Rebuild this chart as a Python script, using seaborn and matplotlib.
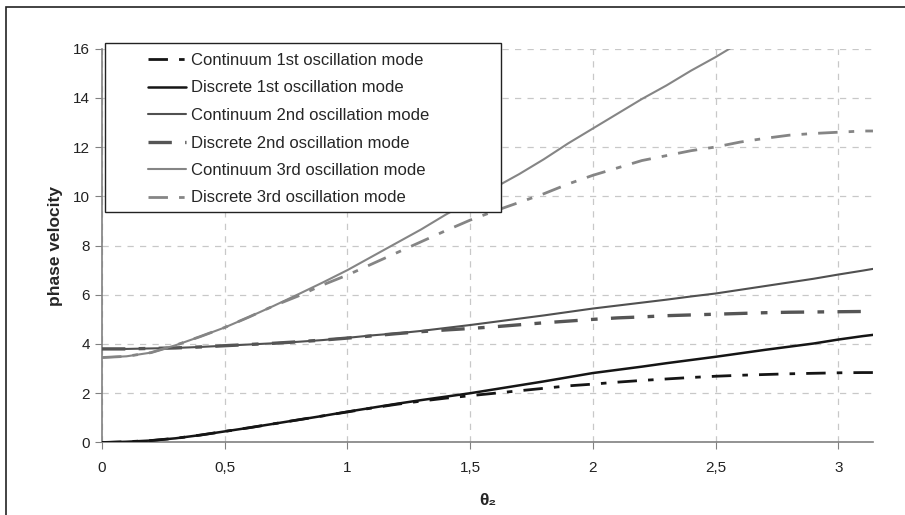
import matplotlib
matplotlib.use("Agg")
import matplotlib.pyplot as plt
from matplotlib.patches import Rectangle
import numpy as np
import seaborn as sns

theta = [0, 0.1, 0.2, 0.3, 0.4, 0.5, 0.6, 0.7, 0.8, 0.9, 1.0, 1.1, 1.2, 1.3, 1.4, 1.5,
         1.6, 1.7, 1.8, 1.9, 2.0, 2.1, 2.2, 2.3, 2.4, 2.5, 2.6, 2.7, 2.8, 2.9, 3.0, 3.1, np.pi]

cont1 = [0, 0.03, 0.08, 0.17, 0.3, 0.45, 0.6, 0.76, 0.92, 1.08, 1.24, 1.4, 1.55, 1.68, 1.8, 1.9,
         2.0, 2.1, 2.2, 2.3, 2.37, 2.45, 2.52, 2.58, 2.64, 2.69, 2.73, 2.76, 2.79, 2.81, 2.83, 2.84, 2.84]
disc1 = [0, 0.03, 0.08, 0.17, 0.3, 0.45, 0.6, 0.76, 0.92, 1.08, 1.25, 1.41, 1.57, 1.72, 1.86, 2.0,
         2.16, 2.32, 2.48, 2.65, 2.82, 2.95, 3.08, 3.22, 3.35, 3.48, 3.62, 3.76, 3.89, 4.02, 4.18, 4.32, 4.37]
cont2 = [3.8, 3.8, 3.82, 3.84, 3.88, 3.93, 3.98, 4.03, 4.09, 4.16, 4.25, 4.35, 4.43, 4.53, 4.65, 4.77,
         4.9, 5.03, 5.16, 5.3, 5.44, 5.56, 5.68, 5.8, 5.93, 6.05, 6.2, 6.35, 6.5, 6.65, 6.82, 6.98, 7.05]
disc2 = [3.8, 3.8, 3.82, 3.84, 3.88, 3.93, 3.98, 4.03, 4.09, 4.16, 4.24, 4.33, 4.42, 4.5, 4.57, 4.63,
         4.7, 4.78, 4.86, 4.93, 5.0, 5.06, 5.1, 5.15, 5.18, 5.21, 5.24, 5.27, 5.29, 5.3, 5.31, 5.32, 5.32]
cont3 = [3.45, 3.5, 3.65, 3.95, 4.3, 4.67, 5.1, 5.55, 6.02, 6.5, 7.0, 7.55, 8.1, 8.65, 9.25, 9.8,
         10.35, 10.9, 11.5, 12.15, 12.75, 13.35, 13.95, 14.5, 15.1, 15.65, 16.25,
         np.nan, np.nan, np.nan, np.nan, np.nan, np.nan]
disc3 = [3.45, 3.5, 3.65, 3.95, 4.3, 4.67, 5.1, 5.55, 5.95, 6.4, 6.8, 7.25, 7.7, 8.15, 8.6, 9.03,
         9.4, 9.75, 10.1, 10.5, 10.85, 11.15, 11.45, 11.65, 11.85, 12.0, 12.2, 12.35, 12.48, 12.55, 12.6, 12.65, 12.65]

labels = ["Continuum 1st oscillation mode", "Discrete 1st oscillation mode",
          "Continuum 2nd oscillation mode", "Discrete 2nd oscillation mode",
          "Continuum 3rd oscillation mode", "Discrete 3rd oscillation mode"]
x_ticks = [0, 0.5, 1, 1.5, 2, 2.5, 3]
x_ticklabels = ["0", "0,5", "1", "1,5", "2", "2,5", "3"]
y_ticks = [0, 2, 4, 6, 8, 10, 12, 14, 16]

sns.set_style("white")
plt.rcParams['font.family'] = ['Liberation Sans', 'DejaVu Sans']

fig = plt.figure(figsize=(9.05, 5.15), dpi=100)
ax = fig.add_axes([0.1127, 0.1408, 0.8519, 0.765])

dashdot = (0, (7, 4, 2, 4))
series = [cont1, disc1, cont2, disc2, cont3, disc3]
styles = [("#151515", dashdot, 2.0), ("#151515", "-", 1.8),
          ("#505050", "-", 1.5), ("#555555", dashdot, 2.4),
          ("#858585", "-", 1.5), ("#858585", dashdot, 2.0)]
for vals, lab, (c, ls, lw) in zip(series, labels, styles):
    sns.lineplot(x=theta, y=vals, ax=ax, color=c, linestyle=ls, linewidth=lw, label=lab, zorder=3)

ax.set_xlim(0, np.pi)
ax.set_ylim(0, 16)
ax.set_xticks(x_ticks)
ax.set_xticklabels(x_ticklabels)
ax.set_yticks(y_ticks)
ax.grid(True, color="#c8c8c8", linestyle=(0, (5, 5)), linewidth=0.9)
for s in ["top", "right"]:
    ax.spines[s].set_visible(False)
for s in ["left", "bottom"]:
    ax.spines[s].set_color("#808080")
    ax.spines[s].set_linewidth(1.2)
ax.tick_params(axis="both", direction="out", length=5, color="#808080", labelsize=11,
               labelcolor="#222222", left=True, bottom=True)
ax.tick_params(axis="x", pad=8)
ax.set_xlabel("θ₂", fontsize=12.5, fontweight="bold", labelpad=13)
ax.set_ylabel("phase velocity", fontsize=12.5, fontweight="bold", labelpad=7)

# legend box
ax.add_patch(Rectangle((105 / 905, 1 - 212 / 515), 396 / 905, 169 / 515,
                       transform=fig.transFigure, facecolor="white", edgecolor="#222222",
                       linewidth=1, zorder=4, clip_on=False))
leg = ax.legend(loc="upper left", bbox_to_anchor=(148 / 905, 1 - 53 / 515),
                bbox_transform=fig.transFigure, frameon=False, fontsize=12,
                handlelength=2.3, handletextpad=0.3, borderpad=0, borderaxespad=0,
                labelspacing=0.75)
leg.set_zorder(5)

# outer frame
fig.patches.append(Rectangle((6 / 905, -0.05), 1.0, 1.05 - 7 / 515, transform=fig.transFigure,
                             facecolor="none", edgecolor="#222222", linewidth=1.2))

fig.savefig("out.png", dpi=100)
